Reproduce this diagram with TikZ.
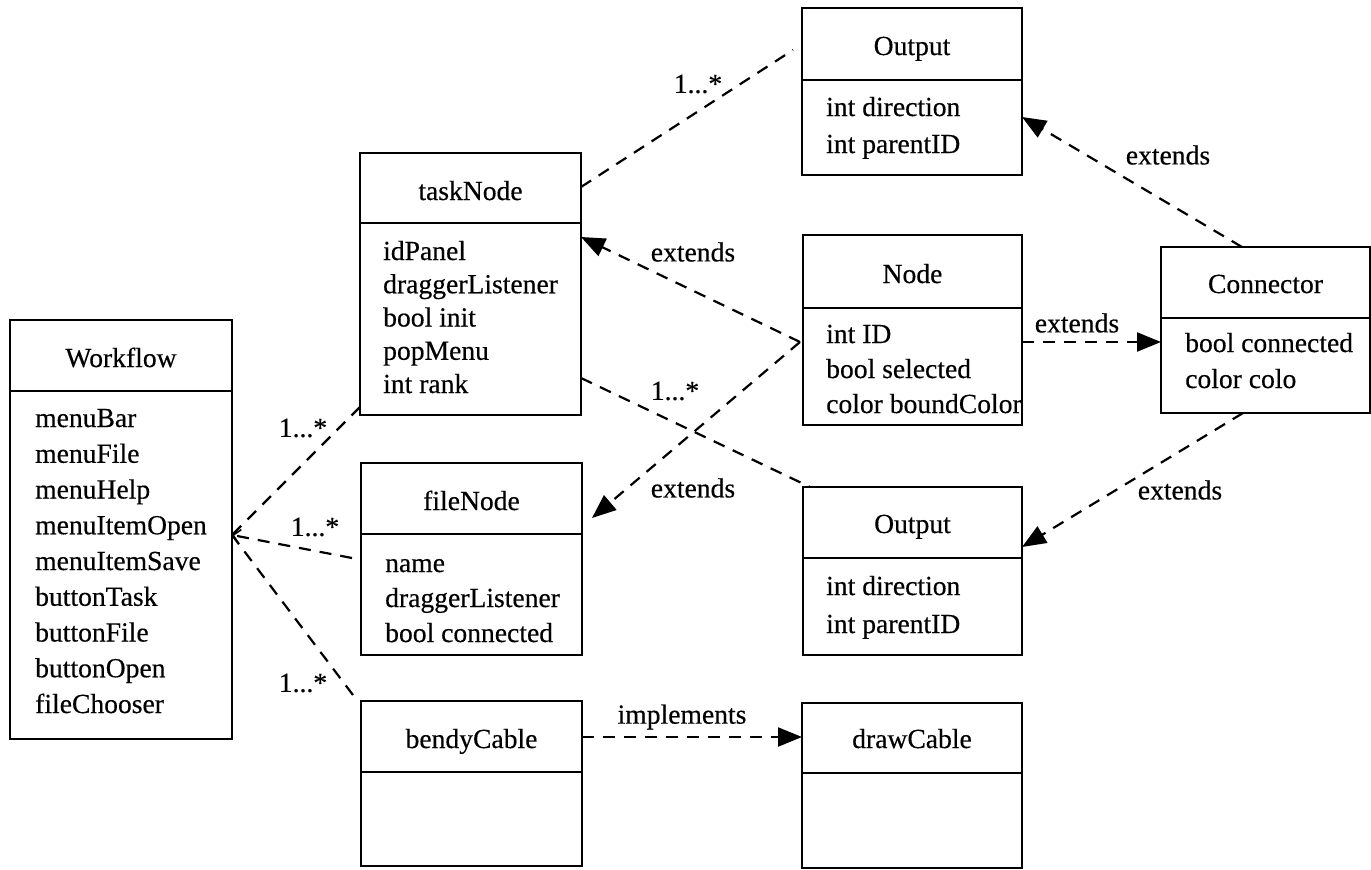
\documentclass[tikz,border=0pt]{standalone}
\usepackage{fontspec}
\setmainfont{Liberation Serif}[FakeBold=0.4]
\usetikzlibrary{arrows.meta,calc}

\tikzset{
  cls/.style={draw, line width=2.2pt, anchor=north west, inner sep=0pt, outer sep=0pt},
  divline/.style={line width=2.2pt},
  ttl/.style={anchor=base, inner sep=0pt},
  attr/.style={anchor=base west, inner sep=0pt},
  rel/.style={line width=2.2pt, dash pattern=on 12pt off 9pt},
  gen/.style={rel, -{Triangle[length=24pt,width=19pt]}},
  lbl/.style={inner sep=0pt},
}

\begin{document}
\begin{tikzpicture}[x=1pt, y=-1pt, font=\fontsize{27.6}{33}\selectfont]
\useasboundingbox (0,0) rectangle (1371,870);

% class boxes
\node[cls, minimum width=222pt, minimum height=419pt] (wf)    at (10,320)   {};
\node[cls, minimum width=221pt, minimum height=262pt] (task)  at (360,153)  {};
\node[cls, minimum width=221pt, minimum height=192pt] (file)  at (361,463)  {};
\node[cls, minimum width=221pt, minimum height=165pt] (bendy) at (361,701)  {};
\node[cls, minimum width=220pt, minimum height=167pt] (outa)  at (802,8)    {};
\node[cls, minimum width=219pt, minimum height=190pt] (nd)    at (803,235)  {};
\node[cls, minimum width=209pt, minimum height=166pt] (conn)  at (1161,247) {};
\node[cls, minimum width=219pt, minimum height=168pt] (outb)  at (803,487)  {};
\node[cls, minimum width=220pt, minimum height=165pt] (drw)   at (802,703)  {};

% compartment dividers
\draw[divline] ([yshift=-71pt]wf.north west)    -- ([yshift=-71pt]wf.north east);
\draw[divline] ([yshift=-70pt]task.north west)  -- ([yshift=-70pt]task.north east);
\draw[divline] ([yshift=-71pt]file.north west)  -- ([yshift=-71pt]file.north east);
\draw[divline] ([yshift=-71pt]bendy.north west) -- ([yshift=-71pt]bendy.north east);
\draw[divline] ([yshift=-72pt]outa.north west)  -- ([yshift=-72pt]outa.north east);
\draw[divline] ([yshift=-73pt]nd.north west)    -- ([yshift=-73pt]nd.north east);
\draw[divline] ([yshift=-71pt]conn.north west)  -- ([yshift=-71pt]conn.north east);
\draw[divline] ([yshift=-71pt]outb.north west)  -- ([yshift=-71pt]outb.north east);
\draw[divline] ([yshift=-70pt]drw.north west)   -- ([yshift=-70pt]drw.north east);

% class names
\node[ttl] (wft)    at ([yshift=-47pt]wf.north)    {Workflow};
\node[ttl] (taskt)  at ([yshift=-47pt]task.north)  {taskNode};
\node[ttl] (filet)  at ([yshift=-47pt]file.north)  {fileNode};
\node[ttl] (bendyt) at ([yshift=-47pt]bendy.north) {bendyCable};
\node[ttl] (outat)  at ([yshift=-47pt]outa.north)  {Output};
\node[ttl] (ndt)    at ([yshift=-48pt]nd.north)    {Node};
\node[ttl] (connt)  at ([yshift=-46pt]conn.north)  {Connector};
\node[ttl] (outbt)  at ([yshift=-46pt]outb.north)  {Output};
\node[ttl] (drwt)   at ([yshift=-45pt]drw.north)   {drawCable};

% attributes
\foreach \t [count=\i] in {menuBar,menuFile,menuHelp,menuItemOpen,menuItemSave,buttonTask,buttonFile,buttonOpen,fileChooser}
  \node[attr] (wfa\i) at ([xshift=25pt, yshift={-107pt-(\i-1)*35.75pt}]wf.north west) {\t};
\foreach \t [count=\i] in {idPanel,draggerListener,bool init,popMenu,int rank}
  \node[attr] (taska\i) at ([xshift=23pt, yshift={-107pt-(\i-1)*33.25pt}]task.north west) {\t};
\foreach \t [count=\i] in {name,draggerListener,bool connected}
  \node[attr] (filea\i) at ([xshift=24pt, yshift={-109pt-(\i-1)*35pt}]file.north west) {\t};
\foreach \t [count=\i] in {int direction,int parentID}
  \node[attr] (outaa\i) at ([xshift=24pt, yshift={-108pt-(\i-1)*37pt}]outa.north west) {\t};
\foreach \t [count=\i] in {int ID,bool selected,color boundColor}
  \node[attr] (nda\i) at ([xshift=23pt, yshift={-108pt-(\i-1)*35pt}]nd.north west) {\t};
\foreach \t [count=\i] in {bool connected,color colo}
  \node[attr] (conna\i) at ([xshift=24pt, yshift={-105pt-(\i-1)*36pt}]conn.north west) {\t};
\foreach \t [count=\i] in {int direction,int parentID}
  \node[attr] (outba\i) at ([xshift=23pt, yshift={-108pt-(\i-1)*38pt}]outb.north west) {\t};

% connector end points
\coordinate (hub) at ([yshift=-215pt]wf.north east);
\coordinate (ndw) at ([xshift=-3pt, yshift=-107pt]nd.north west);

% aggregations from Workflow
\draw[rel] ([yshift=8pt]task.south west) -- (hub);
\draw[rel, -{Straight Barb[length=7pt,width=14pt,line width=1.6pt]}] ([xshift=-9pt, yshift=-95pt]file.north west) -- (hub);
\draw[rel] ([xshift=-8pt, yshift=6pt]bendy.north west) -- (hub);

% associations of taskNode
\draw[rel] ([yshift=-34pt]task.north east) -- ([xshift=-9pt, yshift=-42pt]outa.north west);
\draw[rel] ([yshift=37pt]task.south east) -- ([xshift=7pt]outb.north west);

% inheritance
\draw[gen] (ndw) -- ([yshift=-84pt]task.north east);
\draw[gen] (ndw) -- ([xshift=10pt, yshift=-55pt]file.north east);
\draw[gen] ([xshift=81pt]conn.north west) -- ([yshift=-109pt]outa.north east);
\draw[gen] ([yshift=-107pt]nd.north east) -- ([yshift=-95pt]conn.north west);
\draw[gen] ([xshift=82pt]conn.south west) -- ([yshift=-60pt]outb.north east);
\draw[gen] ([yshift=-36pt]bendy.north east) -- ([yshift=-34pt]drw.north west);

% multiplicities and relation names
\node[lbl] (m1) at (303,428) {1...*};
\node[lbl] (m2) at (315,527) {1...*};
\node[lbl] (m3) at (303,683) {1...*};
\node[lbl] (m4) at (698,84)  {1...*};
\node[lbl] (m5) at (675,391) {1...*};
\node[lbl] (e1) at (693,252) {extends};
\node[lbl] (e2) at (693,488) {extends};
\node[lbl] (e3) at (1168,155) {extends};
\node[lbl] (e4) at (1077,323) {extends};
\node[lbl] (e5) at (1180,490) {extends};
\node[lbl] (i1) at (682,717) {implements};
\end{tikzpicture}
\end{document}
